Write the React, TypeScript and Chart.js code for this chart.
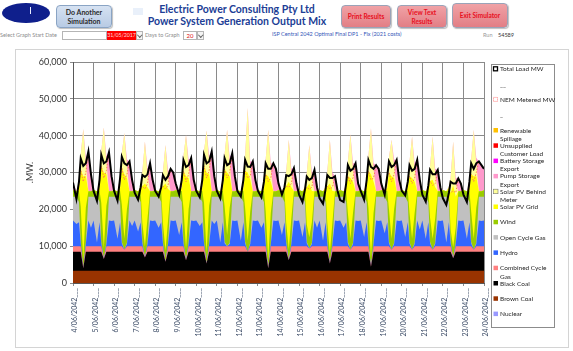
import React, { useEffect, useRef } from 'react';
import { Chart, registerables } from 'chart.js';

Chart.register(...registerables);
Chart.defaults.font.family = 'Lato, "Open Sans", sans-serif';

// ---------- categories / tick labels ----------
const DAY_LABELS = [
  '4/06/2042', '5/06/2042', '6/06/2042', '7/06/2042', '8/06/2042', '9/06/2042', '10/06/2042',
  '11/06/2042', '12/06/2042', '13/06/2042', '14/06/2042', '15/06/2042', '16/06/2042', '17/06/2042',
  '18/06/2042', '19/06/2042', '20/06/2042', '21/06/2042', '22/06/2042', '23/06/2042', '24/06/2042',
];
const SAMPLE_HOURS = [0, 4, 7, 9, 12, 15, 18, 21];
const Y_TICKS = [0, 10000, 20000, 30000, 40000, 50000, 60000];

// time stamps (hours from 4/06/2042 00:00)
const HOURS: number[] = [];
for (let d = 0; d < 20; d++) for (const h of SAMPLE_HOURS) HOURS.push(d * 24 + h);
HOURS.push(480);

// ---------- series values (MW), one row per day: 0h 4h 7h 9h 12h 15h 18h 21h ----------
const NONE = [
  0, 0, 0, 0, 0, 0, 0, 0, 0, 0, 0, 0, 0, 0, 0, 0, 0, 0, 0, 0, 0, 0, 0, 0, 0, 0, 0, 0, 0, 0, 0, 0,
  0, 0, 0, 0, 0, 0, 0, 0, 0, 0, 0, 0, 0, 0, 0, 0, 0, 0, 0, 0, 0, 0, 0, 0, 0, 0, 0, 0, 0, 0, 0, 0,
  0, 0, 0, 0, 0, 0, 0, 0, 0, 0, 0, 0, 0, 0, 0, 0, 0, 0, 0, 0, 0, 0, 0, 0, 0, 0, 0, 0, 0, 0, 0, 0,
  0, 0, 0, 0, 0, 0, 0, 0, 0, 0, 0, 0, 0, 0, 0, 0, 0, 0, 0, 0, 0, 0, 0, 0, 0, 0, 0, 0, 0, 0, 0, 0,
  0, 0, 0, 0, 0, 0, 0, 0, 0, 0, 0, 0, 0, 0, 0, 0, 0, 0, 0, 0, 0, 0, 0, 0, 0, 0, 0, 0, 0, 0, 0, 0,
  0,
];

const BROWN_COAL = [
  3300, 3300, 3300, 3300, 3300, 3300, 3300, 3300, 3300, 3300, 3300, 3300, 3300, 3300, 3300, 3300,
  3300, 3300, 3300, 3300, 3300, 3300, 3300, 3300, 3300, 3300, 3300, 3300, 3300, 3300, 3300, 3300,
  3300, 3300, 3300, 3300, 3300, 3300, 3300, 3300, 3300, 3300, 3300, 3300, 3300, 3300, 3300, 3300,
  3300, 3300, 3300, 3300, 3300, 3300, 3300, 3300, 3300, 3300, 3300, 3300, 3300, 3300, 3300, 3300,
  3300, 3300, 3300, 3300, 3300, 3300, 3300, 3300, 3300, 3300, 3300, 3300, 3300, 3300, 3300, 3300,
  3300, 3300, 3300, 3300, 3300, 3300, 3300, 3300, 3300, 3300, 3300, 3300, 3300, 3300, 3300, 3300,
  3300, 3300, 3300, 3300, 3300, 3300, 3300, 3300, 3300, 3300, 3300, 3300, 3300, 3300, 3300, 3300,
  3300, 3300, 3300, 3300, 3300, 3300, 3300, 3300, 3300, 3300, 3300, 3300, 3300, 3300, 3300, 3300,
  3300, 3300, 3300, 3300, 3300, 3300, 3300, 3300, 3300, 3300, 3300, 3300, 3300, 3300, 3300, 3300,
  3300, 3300, 3300, 3300, 3300, 3300, 3300, 3300, 3300, 3300, 3300, 3300, 3300, 3300, 3300, 3300,
  3300,
];

const BLACK_COAL = [
  5200, 5200, 5200, 5200, 700, 5200, 5200, 5200,
  5200, 5200, 5200, 5200, 3200, 5200, 5200, 5200,
  5200, 5200, 5200, 5200, 5200, 5200, 5200, 5200,
  5200, 5200, 5200, 5200, 3600, 5200, 5200, 5200,
  5200, 5200, 5200, 5200, 2500, 5200, 5200, 5200,
  5200, 5200, 5200, 5200, 2900, 5200, 5200, 5200,
  5200, 5200, 5200, 5200, 2000, 5200, 5200, 5200,
  5200, 5200, 5200, 5200, 5200, 5200, 5200, 5200,
  5200, 5200, 5200, 5200, 5200, 5200, 5200, 5200,
  5200, 5200, 5200, 5200, 700, 5200, 5200, 5200,
  5200, 5200, 5200, 5200, 2900, 5200, 5200, 5200,
  5200, 5200, 5200, 5200, 5200, 5200, 5200, 5200,
  5200, 5200, 5200, 5200, 2000, 5200, 5200, 5200,
  5200, 5200, 5200, 5200, 5200, 5200, 5200, 5200,
  5200, 5200, 5200, 5200, 1100, 5200, 5200, 5200,
  5200, 5200, 5200, 5200, 5200, 5200, 5200, 5200,
  5200, 5200, 5200, 5200, 5200, 5200, 5200, 5200,
  5200, 5200, 5200, 5200, 5200, 5200, 5200, 5200,
  5200, 5200, 5200, 5200, 3400, 5200, 5200, 5200,
  5200, 5200, 5200, 5200, 5200, 5200, 5200, 5200,
  5200,
];

const CCGT = [
  1500, 1500, 1500, 1500, 0, 1500, 1500, 1500,
  1500, 1500, 1500, 1500, 0, 1500, 1500, 1500,
  1500, 1500, 1500, 1500, 500, 1500, 1500, 1500,
  1500, 1500, 1500, 1500, 0, 1500, 1500, 1500,
  1500, 1500, 1500, 1500, 0, 1500, 1500, 1500,
  1500, 1500, 1500, 1500, 0, 1500, 1500, 1500,
  1500, 1500, 1500, 1500, 0, 1500, 1500, 1500,
  1500, 1500, 1500, 1500, 1500, 1500, 1500, 1500,
  1500, 1500, 1500, 1500, 0, 1500, 1500, 1500,
  1500, 1500, 1500, 1500, 0, 1500, 1500, 1500,
  1500, 1500, 1500, 1500, 0, 1500, 1500, 1500,
  1500, 1500, 1500, 1500, 900, 1500, 1500, 1500,
  1500, 1500, 1500, 1500, 0, 1500, 1500, 1500,
  1500, 1500, 1500, 1500, 500, 1500, 1500, 1500,
  1500, 1500, 1500, 1500, 0, 1500, 1500, 1500,
  1500, 1500, 1500, 1500, 500, 1500, 1500, 1500,
  1500, 1500, 1500, 1500, 500, 1500, 1500, 1500,
  1500, 1500, 1500, 1500, 500, 1500, 1500, 1500,
  1500, 1500, 1500, 1500, 0, 1500, 1500, 1500,
  1500, 1500, 1500, 1500, 500, 1500, 1500, 1500,
  1500,
];

const HYDRO = [
  7000, 6000, 6500, 800, 0, 600, 7000, 5000,
  7000, 1000, 6500, 800, 0, 600, 7000, 6800,
  7000, 2000, 6500, 800, 0, 600, 7000, 5500,
  7000, 4000, 6500, 800, 0, 600, 7000, 6800,
  7000, 5000, 6500, 800, 0, 600, 7000, 6800,
  7000, 3000, 6500, 800, 0, 600, 7000, 6800,
  7000, 5500, 6500, 800, 0, 600, 7000, 6000,
  7000, 1000, 6500, 800, 0, 600, 7000, 6800,
  7000, 1500, 6500, 800, 0, 600, 7000, 6800,
  7000, 5000, 6500, 800, 0, 600, 7000, 6800,
  7000, 3000, 6500, 800, 0, 600, 7000, 6800,
  7000, 2500, 6500, 800, 0, 600, 7000, 5000,
  7000, 1500, 6500, 800, 0, 600, 7000, 6800,
  7000, 5000, 6500, 800, 0, 600, 7000, 6800,
  7000, 2500, 6500, 800, 0, 600, 7000, 6800,
  7000, 3500, 6500, 800, 0, 600, 7000, 6800,
  7000, 2500, 6500, 800, 0, 600, 7000, 4500,
  7000, 2000, 6500, 800, 0, 600, 7000, 6800,
  7000, 1000, 6500, 800, 0, 600, 7000, 6800,
  7000, 2000, 6500, 800, 0, 600, 7000, 6800,
  7000,
];

const OCGT = [
  6400, 7400, 5500, 400, 0, 300, 6400, 8400,
  6400, 12400, 5500, 400, 0, 300, 6400, 6600,
  6400, 11400, 5500, 400, 0, 300, 6400, 7900,
  6400, 9400, 5500, 400, 0, 300, 6400, 6600,
  6400, 8400, 5500, 400, 0, 300, 6400, 6600,
  6400, 10400, 5500, 400, 0, 300, 6400, 6600,
  6400, 7900, 5500, 400, 0, 300, 6400, 7400,
  6400, 12400, 5500, 400, 0, 300, 6400, 6600,
  6400, 11900, 5500, 400, 0, 300, 6400, 6600,
  6400, 8400, 5500, 400, 0, 300, 6400, 6600,
  6400, 10400, 5500, 400, 0, 300, 6400, 6600,
  6400, 10900, 5500, 400, 0, 300, 6400, 8400,
  6400, 11900, 5500, 400, 0, 300, 6400, 6600,
  6400, 8400, 5500, 400, 0, 300, 6400, 6600,
  6400, 10900, 5500, 400, 0, 300, 6400, 6600,
  6400, 9900, 5500, 400, 0, 300, 6400, 6600,
  6400, 10900, 5500, 400, 0, 300, 6400, 8900,
  6400, 11400, 5500, 400, 0, 300, 6400, 6600,
  6400, 12400, 5500, 400, 0, 300, 6400, 6600,
  6400, 11400, 5500, 400, 0, 300, 6400, 6600,
  6400,
];

const WIND = [
  1800, 1500, 3000, 9600, 2500, 9600, 1500, 1500,
  1800, 1500, 3000, 10600, 3000, 10100, 1500, 1500,
  1800, 1500, 3000, 10100, 3000, 9100, 1500, 1500,
  1800, 1500, 3000, 5100, 3000, 6600, 1500, 1500,
  1800, 1500, 3000, 5100, 3000, 6100, 1500, 1500,
  1800, 1500, 3000, 9200, 3000, 9100, 1500, 1500,
  1800, 1500, 3000, 10600, 3000, 10100, 1500, 1500,
  1800, 1500, 3000, 9700, 3000, 9600, 1500, 1500,
  1800, 1500, 3000, 9200, 3000, 8600, 1500, 1500,
  1800, 1500, 3000, 8300, 2500, 8100, 1500, 1500,
  1800, 1500, 3000, 5100, 3000, 6600, 1500, 1500,
  1800, 1500, 3000, 4700, 3000, 5600, 1500, 1500,
  1800, 1500, 3000, 5100, 3000, 5600, 1500, 1500,
  1800, 1500, 3000, 7800, 3000, 8100, 1500, 1500,
  1800, 1500, 3000, 9200, 2500, 8100, 1500, 1500,
  1800, 1500, 3000, 8800, 3000, 9100, 1500, 1500,
  1800, 1500, 3000, 7800, 3000, 8100, 1500, 1500,
  1800, 1500, 3000, 6500, 3000, 6600, 1500, 1500,
  1800, 1500, 3000, 3300, 3000, 4100, 1500, 1500,
  1800, 1500, 3000, 8300, 3000, 9600, 1500, 1500,
  1800,
];

const SOLAR_GRID = [
  0, 0, 800, 10000, 22500, 8500, 0, 0,
  0, 0, 800, 10000, 20500, 8500, 0, 0,
  0, 0, 800, 10000, 17500, 8500, 0, 0,
  0, 0, 800, 10000, 17100, 8500, 0, 0,
  0, 0, 800, 10000, 18200, 8500, 0, 0,
  0, 0, 800, 10000, 19800, 8500, 0, 0,
  0, 0, 800, 10000, 21700, 8500, 0, 0,
  0, 0, 800, 10000, 17000, 8500, 0, 0,
  0, 0, 800, 10000, 18500, 8500, 0, 0,
  0, 0, 800, 10000, 22500, 8500, 0, 0,
  0, 0, 800, 10000, 18300, 8500, 0, 0,
  0, 0, 800, 10000, 14600, 8500, 0, 0,
  0, 0, 800, 10000, 18700, 8500, 0, 0,
  0, 0, 800, 10000, 16500, 8500, 0, 0,
  0, 0, 800, 10000, 22600, 8500, 0, 0,
  0, 0, 800, 10000, 17000, 8500, 0, 0,
  0, 0, 800, 10000, 16500, 8500, 0, 0,
  0, 0, 800, 10000, 16000, 8500, 0, 0,
  0, 0, 800, 10000, 16800, 8500, 0, 0,
  0, 0, 800, 10000, 17000, 8500, 0, 0,
  0,
];

const SOLAR_BTM = [
  0, 0, 300, 4000, 12800, 3500, 0, 0,
  0, 0, 300, 4000, 12200, 3500, 0, 0,
  0, 0, 300, 4000, 11200, 3500, 0, 0,
  0, 0, 300, 4000, 11400, 3500, 0, 0,
  0, 0, 300, 4000, 10500, 3500, 0, 0,
  0, 0, 300, 4000, 11200, 3500, 0, 0,
  0, 0, 300, 4000, 11400, 3500, 0, 0,
  0, 0, 300, 4000, 11600, 3500, 0, 0,
  0, 0, 300, 4000, 17500, 3500, 0, 0,
  0, 0, 300, 4000, 12600, 3500, 0, 0,
  0, 0, 300, 4000, 11400, 3500, 0, 0,
  0, 0, 300, 4000, 10500, 3500, 0, 0,
  0, 0, 300, 4000, 11900, 3500, 0, 0,
  0, 0, 300, 4000, 11900, 3500, 0, 0,
  0, 0, 300, 4000, 12500, 3500, 0, 0,
  0, 0, 300, 4000, 9900, 3500, 0, 0,
  0, 0, 300, 4000, 11300, 3500, 0, 0,
  0, 0, 300, 4000, 11800, 3500, 0, 0,
  0, 0, 300, 4000, 11900, 3500, 0, 0,
  0, 0, 300, 4000, 12600, 3500, 0, 0,
  0,
];

const PUMP_STORAGE = [
  2100, 0, 1400, 0, 0, 1500, 10800, 4600,
  0, 0, 1900, 0, 0, 1500, 10600, 4100,
  0, 0, 2400, 0, 0, 1500, 8100, 3100,
  0, 0, 0, 0, 0, 1500, 7600, 3100,
  0, 0, 0, 0, 0, 1500, 6100, 5100,
  1800, 0, 1900, 0, 0, 1500, 9000, 3100,
  0, 0, 1900, 0, 0, 1500, 10400, 4100,
  0, 0, 1900, 0, 0, 1500, 9600, 4100,
  0, 0, 1900, 0, 0, 1500, 8100, 3100,
  0, 0, 1400, 0, 0, 1500, 7600, 6100,
  1800, 0, 0, 0, 0, 1500, 6300, 2100,
  0, 0, 0, 0, 0, 1500, 5800, 1100,
  0, 0, 0, 0, 0, 1500, 4100, 0,
  0, 0, 900, 0, 0, 1500, 7600, 2100,
  0, 0, 1900, 0, 0, 1500, 7100, 6100,
  1800, 0, 2900, 0, 0, 1500, 8500, 3100,
  0, 0, 1400, 0, 0, 1500, 8100, 3100,
  0, 0, 400, 0, 0, 1500, 5800, 1100,
  0, 0, 0, 0, 0, 1500, 3500, 2100,
  0, 0, 1400, 0, 0, 1500, 8100, 7100,
  5800,
];

const BATTERY = [
  0, 0, 0, 0, 0, 0, 0, 0,
  0, 0, 0, 0, 0, 0, 0, 0,
  0, 0, 0, 0, 0, 0, 0, 0,
  0, 0, 0, 0, 0, 0, 0, 0,
  0, 0, 0, 0, 0, 0, 0, 0,
  0, 0, 0, 0, 0, 0, 0, 0,
  0, 0, 0, 0, 0, 0, 400, 0,
  0, 0, 0, 0, 0, 0, 700, 0,
  0, 0, 0, 0, 0, 0, 0, 0,
  0, 0, 0, 0, 0, 0, 0, 0,
  0, 0, 0, 0, 0, 0, 0, 0,
  0, 0, 0, 0, 0, 0, 0, 0,
  0, 0, 0, 0, 0, 0, 0, 0,
  0, 0, 0, 0, 0, 0, 0, 0,
  0, 0, 0, 0, 0, 0, 0, 0,
  0, 0, 0, 0, 0, 0, 0, 0,
  0, 0, 0, 0, 0, 0, 400, 0,
  0, 0, 0, 0, 0, 0, 0, 0,
  0, 0, 0, 0, 0, 0, 0, 0,
  0, 0, 0, 0, 0, 0, 0, 0,
  0,
];

const TOTAL_LOAD = [
  27300, 22800, 27500, 33800, 31800, 32500, 35700, 29500,
  25000, 22300, 28000, 34800, 32500, 33000, 35500, 29000,
  25000, 22400, 28500, 34300, 32500, 32000, 33000, 28000,
  24500, 22600, 26000, 29300, 28800, 29500, 32500, 28000,
  25000, 23500, 26000, 29300, 28000, 29000, 31000, 30000,
  27000, 24000, 28000, 33400, 31500, 32000, 33900, 28000,
  25000, 23300, 28000, 34800, 32500, 33000, 35700, 29000,
  25000, 23000, 28000, 33900, 32000, 32500, 35200, 29000,
  25000, 23500, 28000, 33400, 31600, 31500, 33000, 28000,
  25000, 23300, 27500, 32500, 31000, 31000, 32500, 31000,
  27000, 24000, 26000, 29300, 29000, 29500, 31200, 27000,
  24000, 22000, 25500, 28900, 28000, 28500, 30700, 26000,
  23000, 21500, 25500, 29300, 28500, 28500, 29000, 25000,
  22500, 22000, 27000, 32000, 30500, 31000, 32500, 27000,
  25000, 22600, 28000, 33400, 31500, 31000, 32000, 31000,
  27000, 24000, 29000, 33000, 31500, 32000, 33400, 28000,
  25000, 23800, 27500, 32000, 30500, 31000, 33400, 28000,
  24000, 22100, 26500, 30700, 29500, 29500, 30700, 26000,
  23000, 21200, 24500, 27500, 27000, 27000, 28400, 27000,
  24000, 22000, 27500, 32500, 31000, 32500, 33000, 32000,
  31000,
];

const NEM_METERED = [
  27300, 22800, 27500, 30800, 27500, 30000, 35700, 29500,
  25000, 22300, 28000, 31800, 28500, 30500, 35500, 29000,
  25000, 22400, 28500, 31300, 28000, 29500, 33000, 28000,
  24500, 22600, 26000, 26300, 25500, 27000, 32500, 28000,
  25000, 23500, 26000, 26300, 25500, 26500, 31000, 30000,
  27000, 24000, 28000, 30400, 27500, 29500, 33900, 28000,
  25000, 23300, 28000, 31800, 28500, 30500, 35700, 29000,
  25000, 23000, 28000, 30900, 28500, 30000, 35200, 29000,
  25000, 23500, 28000, 30400, 28500, 29000, 33000, 28000,
  25000, 23300, 27500, 29500, 27500, 28500, 32500, 31000,
  27000, 24000, 26000, 26300, 26000, 27000, 31200, 27000,
  24000, 22000, 25500, 25900, 25500, 26000, 30700, 26000,
  23000, 21500, 25500, 26300, 25500, 26000, 29000, 25000,
  22500, 22000, 27000, 29000, 27000, 28500, 32500, 27000,
  25000, 22600, 28000, 30400, 28000, 28500, 32000, 31000,
  27000, 24000, 29000, 30000, 27500, 29500, 33400, 28000,
  25000, 23800, 27500, 29000, 27000, 28500, 33400, 28000,
  24000, 22100, 26500, 27700, 26500, 27000, 30700, 26000,
  23000, 21200, 24500, 24500, 25000, 24500, 28400, 27000,
  24000, 22000, 27500, 29500, 27500, 30000, 33000, 32000,
  31000,
];

// stacking order bottom -> top
const AREAS = [
  { label: 'Nuclear', data: NONE, color: '#9999FF', fill: 'origin' },
  { label: 'Brown Coal', data: BROWN_COAL, color: '#993300', fill: 'origin' },
  { label: 'Black Coal', data: BLACK_COAL, color: '#000000', fill: 'origin' },
  { label: 'Combined Cycle Gas', data: CCGT, color: '#FF8080', fill: 'origin' },
  { label: 'Hydro', data: HYDRO, color: '#3366FF', fill: 'origin' },
  { label: 'Open Cycle Gas', data: OCGT, color: '#C0C0C0', fill: 'origin' },
  { label: 'Wind', data: WIND, color: '#99CC00', fill: 'origin' },
  { label: 'Solar PV Grid', data: SOLAR_GRID, color: '#FFFF00', fill: 'origin' },
  { label: 'Solar PV Behind Meter', data: SOLAR_BTM, color: '#FFFF99', fill: 'origin' },
  { label: 'Pump Storage Export', data: PUMP_STORAGE, color: '#FF99CC', fill: 'origin' },
  { label: 'Battery Storage Export', data: BATTERY, color: '#FF00FF', fill: '-1' },
  { label: 'Unsupplied Customer Load', data: NONE, color: '#FF0000', fill: '-1' },
  { label: 'Renewable Spillage', data: NONE, color: '#FFC000', fill: '-1' },
];

const LEGEND_LINES: Record<string, string[]> = {
  'Renewable Spillage': ['Renewable', 'Spillage'],
  'Unsupplied Customer Load': ['Unsupplied', 'Customer Load'],
  'Battery Storage Export': ['Battery Storage', 'Export'],
  'Pump Storage Export': ['Pump Storage', 'Export'],
  'Solar PV Behind Meter': ['Solar PV Behind', 'Meter'],
  'Combined Cycle Gas': ['Combined Cycle', 'Gas'],
};

const toPoints = (arr: number[]) => arr.map((y, i) => ({ x: HOURS[i], y }));

const sideLegend = {
  id: 'sideLegend',
  afterDraw(chart: any) {
    const ctx: CanvasRenderingContext2D = chart.ctx;
    ctx.save();
    ctx.strokeStyle = '#8c8c8c';
    ctx.lineWidth = 1;
    ctx.strokeRect(475.5, 14.5, 63, 263);
    ctx.font = '6.5px Lato, "Open Sans", sans-serif';
    ctx.textBaseline = 'middle';
    ctx.textAlign = 'left';
    const areaRows = chart.data.datasets
      .filter((d: any) => d.stack === 'gen')
      .slice()
      .reverse()
      .map((d: any) => ({ kind: 'area', color: d.backgroundColor, lines: LEGEND_LINES[d.label] || [d.label] }));
    const rows: any[] = [
      { kind: 'load', lines: ['Total Load MW'] },
      { kind: 'none', lines: ['__'] },
      { kind: 'metered', lines: ['NEM Metered MW'] },
      { kind: 'none', lines: ['_'] },
      ...areaRows,
    ];
    rows.forEach((row, i) => {
      const y = 19.3 + 15.3 * i;
      const sx = 477.5;
      if (row.kind === 'load') {
        ctx.fillStyle = '#fff';
        ctx.fillRect(sx, y - 2.5, 4, 4);
        ctx.strokeStyle = '#000';
        ctx.lineWidth = 1.3;
        ctx.strokeRect(sx, y - 2.5, 4, 4);
      } else if (row.kind === 'metered') {
        ctx.strokeStyle = '#FF8080';
        ctx.lineWidth = 1;
        ctx.setLineDash([1, 1]);
        ctx.strokeRect(sx, y - 2.5, 4, 4);
        ctx.setLineDash([]);
      } else if (row.kind === 'area') {
        ctx.fillStyle = row.color;
        ctx.fillRect(sx, y - 2.5, 4.5, 4.5);
        if (row.color === '#FFFF99') {
          ctx.strokeStyle = '#777';
          ctx.lineWidth = 0.6;
          ctx.strokeRect(sx, y - 2.5, 4.5, 4.5);
        }
      }
      ctx.fillStyle = '#262626';
      row.lines.forEach((t: string, k: number) => ctx.fillText(t, 484, y + k * 8.3));
    });
    ctx.restore();
  },
};

const FONT = 'Lato, "Open Sans", sans-serif';

export default function App() {
  const ref = useRef<HTMLCanvasElement>(null);

  useEffect(() => {
    if (!ref.current) return;
    const datasets: any[] = AREAS.map((a) => ({
      label: a.label,
      data: toPoints(a.data),
      backgroundColor: a.color,
      borderColor: a.color,
      borderWidth: 0,
      fill: a.fill,
      stack: 'gen',
      pointRadius: 0,
      tension: 0,
      order: 5,
    }));
    datasets.push({
      label: 'NEM Metered MW',
      data: toPoints(NEM_METERED),
      borderColor: '#FF7F50',
      borderWidth: 1,
      borderDash: [1.5, 1.5],
      fill: false,
      stack: 'metered',
      pointRadius: 0,
      tension: 0,
      order: 1,
    });
    datasets.push({
      label: 'Total Load MW',
      data: toPoints(TOTAL_LOAD),
      borderColor: '#000000',
      borderWidth: 2,
      fill: false,
      stack: 'load',
      pointRadius: 0,
      tension: 0,
      order: 0,
    });

    const chart = new Chart(ref.current, {
      type: 'line',
      data: { datasets },
      options: {
        animation: false,
        responsive: false,
        maintainAspectRatio: false,
        devicePixelRatio: 1,
        events: [],
        layout: { padding: { top: 12, right: 84, bottom: 0, left: 0 }, autoPadding: false },
        plugins: { legend: { display: false }, tooltip: { enabled: false } },
        elements: { point: { radius: 0 }, line: { tension: 0 } },
        scales: {
          x: {
            type: 'linear',
            min: 0,
            max: 480,
            afterBuildTicks: (scale: any) => {
              scale.ticks = DAY_LABELS.map((_, i) => ({ value: i * 24 }));
            },
            afterFit: (scale: any) => {
              scale.height = 64;
            },
            ticks: {
              autoSkip: false,
              maxTicksLimit: 30,
              stepSize: 24,
              minRotation: 90,
              maxRotation: 90,
              padding: 2,
              labelOffset: 2,
              color: '#3b4b66',
              font: { family: FONT, size: 7 },
              callback: (v: any) => `${DAY_LABELS[Math.round(Number(v) / 24)]}___`,
            },
            grid: { color: '#8a8a8a', lineWidth: 1, tickLength: 3 },
            border: { color: '#595959' },
          },
          y: {
            stacked: true,
            min: 0,
            max: 60000,
            afterBuildTicks: (scale: any) => {
              scale.ticks = Y_TICKS.map((v) => ({ value: v }));
            },
            afterFit: (scale: any) => {
              scale.width = 57;
            },
            ticks: {
              stepSize: 10000,
              padding: 3,
              color: '#333333',
              font: { family: FONT, size: 9 },
              callback: (v: any) => Number(v).toLocaleString('en-US'),
            },
            grid: { color: '#8a8a8a', lineWidth: 1, tickLength: 3 },
            border: { color: '#595959' },
            title: {
              display: true,
              text: '.MW.',
              color: '#333333',
              font: { family: FONT, size: 9 },
              padding: { top: 9, bottom: 0 },
            },
          },
        },
      },
      plugins: [sideLegend],
    } as any);
    return () => chart.destroy();
  }, []);

  const abs: React.CSSProperties = { position: 'absolute' };
  const btn: React.CSSProperties = {
    position: 'absolute',
    boxSizing: 'border-box',
    borderRadius: 4,
    display: 'flex',
    alignItems: 'center',
    justifyContent: 'center',
    textAlign: 'center',
    fontWeight: 700,
    lineHeight: '9px',
    boxShadow: '1px 1px 1px rgba(0,0,0,0.25)',
  };
  const redBtn: React.CSSProperties = {
    ...btn,
    background: 'linear-gradient(#f0a2a6, #e27e85)',
    border: '1px solid #9aa3b8',
    color: '#e8101e',
    fontSize: 6.5,
  };
  const small: React.CSSProperties = { ...abs, fontSize: 5.5, lineHeight: '9px', whiteSpace: 'nowrap' };

  return (
    <div style={{ position: 'absolute', left: 0, top: 0, width: 573, height: 351, background: '#fff', overflow: 'hidden', fontFamily: FONT }}>
      {/* logo */}
      <div style={{ ...abs, left: 2, top: 3, width: 48, height: 20, borderRadius: '50%', background: '#0f1f8c' }} />
      <div style={{ ...abs, left: 30, top: 7, width: 1, height: 7, background: '#e8ecff' }} />
      {/* buttons */}
      <div style={{ ...btn, left: 56, top: 5, width: 56, height: 23, background: 'linear-gradient(#d6e2f2, #b8cbe4)', border: '1px solid #8aa4c4', color: '#2b2b2b', fontSize: 7 }}>
        Do Another<br />Simulation
      </div>
      <div style={{ ...abs, left: 133, top: 8, width: 10, height: 7, background: '#e9f0fa' }} />
      <div style={{ ...abs, left: 117, top: 3, width: 240, textAlign: 'center', color: '#203d95', fontWeight: 700, fontSize: 10.5, lineHeight: '12.4px', whiteSpace: 'nowrap' }}>
        Electric Power Consulting Pty Ltd<br />Power System Generation Output Mix
      </div>
      <div style={{ ...redBtn, left: 341, top: 5, width: 50, height: 23 }}>Print Results</div>
      <div style={{ ...redBtn, left: 397, top: 5, width: 50, height: 23 }}>View Text<br />Results</div>
      <div style={{ ...redBtn, left: 452, top: 3, width: 56, height: 25 }}>Exit Simulator</div>

      {/* controls row */}
      <div style={{ ...small, left: 0, top: 31, color: '#8c8c8c' }}>Select Graph Start Date</div>
      <div style={{ ...abs, left: 62, top: 31, width: 45, height: 9, boxSizing: 'border-box', border: '1px solid #b5b5b5', background: '#fff' }} />
      <div style={{ ...small, left: 107, top: 31, width: 29, height: 9, background: '#ff0000', color: '#ffd8d8', textAlign: 'center', fontSize: 5.3, letterSpacing: -0.1, overflow: 'visible' }}>31/05/2017</div>
      <div style={{ ...abs, left: 136, top: 31, width: 7, height: 9, boxSizing: 'border-box', border: '1px solid #b5b5b5', background: '#f4f4f4' }}>
        <div style={{ ...abs, left: 1.2, top: 1.3, width: 2.5, height: 2.5, borderRight: '1px solid #666', borderBottom: '1px solid #666', transform: 'rotate(45deg)' }} />
      </div>
      <div style={{ ...small, left: 145, top: 31, color: '#8c8c8c' }}>Days to Graph</div>
      <div style={{ ...small, left: 183, top: 31, width: 14, height: 9, boxSizing: 'border-box', border: '1px solid #b5b5b5', color: '#e01010', textAlign: 'center', fontSize: 6, lineHeight: '7px' }}>20</div>
      <div style={{ ...abs, left: 197, top: 31, width: 7, height: 9, boxSizing: 'border-box', border: '1px solid #b5b5b5', background: '#f4f4f4' }}>
        <div style={{ ...abs, left: 1.2, top: 1.3, width: 2.5, height: 2.5, borderRight: '1px solid #666', borderBottom: '1px solid #666', transform: 'rotate(45deg)' }} />
      </div>
      <div style={{ ...small, left: 272, top: 30, color: '#3556b8' }}>ISP Central 2042 Optimal Final DP1 - Fix (2021 costs)</div>
      <div style={{ ...small, left: 483, top: 31, color: '#999' }}>Run</div>
      <div style={{ ...small, left: 498, top: 31, color: '#333' }}>54589</div>

      {/* chart frame */}
      <div style={{ ...abs, left: 15, top: 49, width: 554, height: 299, boxSizing: 'border-box', border: '1px solid #d4d4d4' }}>
        <canvas ref={ref} width={552} height={297} style={{ position: 'absolute', left: 0, top: 0, width: 552, height: 297 }} />
      </div>
    </div>
  );
}
